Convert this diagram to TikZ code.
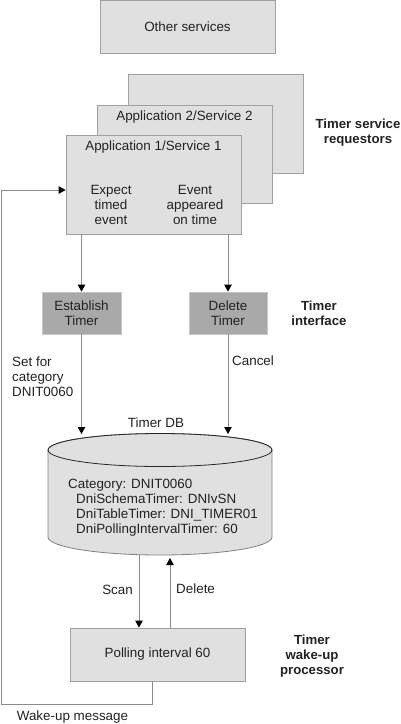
\documentclass[tikz,border=0pt]{standalone}
\usepackage{fontspec}
\setmainfont{Liberation Sans}
\usetikzlibrary{arrows.meta}
\definecolor{boxgray}{HTML}{E0E0E0}
\definecolor{ifgray}{HTML}{A9A9A9}
\definecolor{edgegray}{HTML}{A0A0A0}
\definecolor{linegray}{HTML}{8C8C8C}
\definecolor{txt}{HTML}{222222}

\begin{document}
\begin{tikzpicture}[x=10pt,y=10pt,
		box/.style={draw=edgegray, fill=boxgray, line width=0.8pt, minimum width=175pt, minimum height=53pt, inner sep=0pt, text=txt},
		ifbox/.style={draw=gray!45, fill=ifgray, line width=0.8pt, minimum width=79pt, minimum height=42pt, align=center, inner sep=0pt, text=txt},
		lbl/.style={text=txt, align=center, inner sep=0pt},
		tag/.style={text=txt, font=\fontsize{13.2}{15}\selectfont\bfseries, align=center, inner sep=0pt},
		conn/.style={draw=linegray, line width=0.8pt, -{Triangle[length=7pt,width=7.5pt,black]}}]
		\tikzstyle{every node}+=[font=\fontsize{13.4}{15}\selectfont]
		\useasboundingbox (0,0) rectangle (40,-72.4);
		% requestors
		\node (other) at (18.75,-2.65) [box] {Other services};
		\node (app3) at (21.55,-12.35) [box, minimum height=99pt] {};
		\node (app2) at (18.45,-15.4) [box, minimum height=98pt] {};
		\node (app1) at (15.35,-18.45) [box, minimum height=99pt] {};
		\node (title2) at (18.45,-11.7) [lbl] {Application 2/Service 2};
		\node (title1) at (15.35,-14.75) [lbl] {Application 1/Service 1};
		\node (expect) at (11.1,-20.5) [lbl] {Expect\\timed\\event};
		\node (appeared) at (19.5,-20.5) [lbl] {Event\\appeared\\on time};
		\node (req) at (35.8,-13.3) [tag] {Timer service\\requestors};
		% interface
		\node (est) at (8.15,-31.3) [ifbox] {Establish\\Timer};
		\node (del) at (22.8,-31.3) [ifbox, minimum width=78pt] {Delete\\Timer};
		\node (iface) at (31.9,-31.3) [tag] {Timer\\interface};
		\draw [conn] (app1.south -| est.north) -- (est.north);
		\draw [conn] (app1.south -| del.north) -- (del.north);
		% timer DB
		\draw [draw=gray, fill=boxgray, line width=0.8pt] (4.8,-45) -- (4.8,-53.7) arc (180:360:11.2 and 1.8) -- (27.2,-45) arc (0:180:11.2 and 1.65) -- cycle;
		\draw [draw=black!85, line width=0.8pt] (16,-45) ellipse (11.2 and 1.65);
		\coordinate (dbtopL) at (8.15,-43.4);
		\coordinate (dbtopR) at (22.8,-43.4);
		\coordinate (dbbotL) at (13.9,-55.5);
		\coordinate (dbbotR) at (17,-55.8);
		\node (dbname) at (15.6,-42.3) [lbl] {Timer DB};
		\node (dbtext) at (6.8,-50.75) [lbl, anchor=west, align=left] {Category: DNIT0060\\
			\hspace{8pt}DniSchemaTimer: DNIvSN\\
			\hspace{8pt}DniTableTimer: DNI\_TIMER01\\
			\hspace{8pt}DniPollingIntervalTimer: 60};
		\draw [conn] (est.south) -- (dbtopL);
		\draw [conn] (del.south) -- (dbtopR);
		\node (setfor) at (1.2,-37.7) [lbl, anchor=west, align=left] {Set for\\category\\DNIT0060};
		\node (cancel) at (23.2,-36.1) [lbl, anchor=west] {Cancel};
		% wake-up processor
		\node (poll) at (15.75,-65.45) [box] {Polling interval 60};
		\node (wake) at (31.2,-65.6) [tag] {Timer\\wake-up\\processor};
		\draw [conn] (dbbotL) -- (dbbotL |- poll.north);
		\draw [conn] (dbbotR |- poll.north) -- (dbbotR);
		\node (scan) at (13.3,-59) [lbl, anchor=east] {Scan};
		\node (dellbl) at (17.6,-58.9) [lbl, anchor=west] {Delete};
		\draw [conn] ([xshift=-5.5pt]poll.south) |- (0.15,-70.4) |- ([yshift=-5.5pt]app1.west);
		\node (wakemsg) at (7.25,-71.7) [lbl] {Wake-up message};
	\end{tikzpicture}
\end{document}
